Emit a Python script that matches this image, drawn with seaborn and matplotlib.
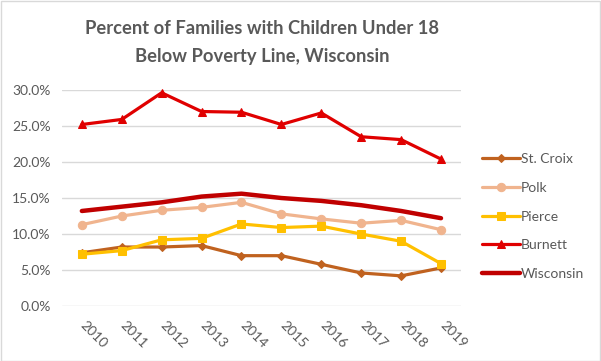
import matplotlib
matplotlib.use("Agg")
import matplotlib.pyplot as plt
import matplotlib.patches as mpatches
import matplotlib.transforms as mtrans
import pandas as pd
import seaborn as sns

# data (percent)
years = [2010, 2011, 2012, 2013, 2014, 2015, 2016, 2017, 2018, 2019]
st_croix = [7.4, 8.2, 8.2, 8.4, 7.0, 7.0, 5.8, 4.6, 4.2, 5.3]
polk = [11.3, 12.5, 13.3, 13.7, 14.4, 12.8, 12.1, 11.5, 11.9, 10.6]
pierce = [7.2, 7.7, 9.2, 9.4, 11.4, 10.9, 11.1, 10.0, 9.0, 5.9]
burnett = [25.2, 25.9, 29.6, 27.0, 26.9, 25.2, 26.8, 23.5, 23.1, 20.4]
wisconsin = [13.2, 13.8, 14.4, 15.2, 15.6, 15.0, 14.6, 14.0, 13.2, 12.2]

series_names = ["St. Croix", "Polk", "Pierce", "Burnett", "Wisconsin"]
series_vals = [st_croix, polk, pierce, burnett, wisconsin]
colors = ["#C0621F", "#F0B48E", "#FFC000", "#E00000", "#C00000"]
markers = ["D", "o", "s", "^", ""]
widths = [2.3, 2.3, 2.3, 2.3, 3.2]

rows = []
for name, vals in zip(series_names, series_vals):
    for y, v in zip(years, vals):
        rows.append({"year": y, "pct": v, "area": name})
df = pd.DataFrame(rows)

sns.set_style("white")
plt.rcParams["font.family"] = ["Lato", "DejaVu Sans"]

fig = plt.figure(figsize=(6.01, 3.61), dpi=100)
ax = fig.add_axes([0.103, 0.152, 0.664, 0.599])

for name, c, m, w in zip(series_names, colors, markers, widths):
    sub = df[df["area"] == name]
    sns.lineplot(data=sub, x="year", y="pct", ax=ax, color=c, lw=w,
                 marker=m if m else None, markersize=6 if m != "D" else 4.5,
                 markeredgecolor=c, label=name, clip_on=False)

ax.set_xlim(2009.5, 2019.5)
ax.set_ylim(0, 30)
ax.set_yticks([0, 5, 10, 15, 20, 25, 30])
ax.set_yticklabels(["{:.1f}%".format(v) for v in [0, 5, 10, 15, 20, 25, 30]])
ax.set_xticks(years)
ax.set_xticklabels([str(y) for y in years], rotation=-45, ha="left",
                   va="top", rotation_mode="anchor")
ax.tick_params(axis="both", length=0, labelsize=10, labelcolor="#595959")
ax.tick_params(axis="x", pad=9)
ax.tick_params(axis="y", pad=8)
# nudge the slanted year labels a little to the right
shift = mtrans.ScaledTranslation(5 / 100, 0, fig.dpi_scale_trans)
for lab in ax.get_xticklabels():
    lab.set_transform(lab.get_transform() + shift)
ax.grid(axis="y", color="#D9D9D9", lw=1)
ax.set_axisbelow(True)
for s in ax.spines.values():
    s.set_visible(False)
ax.set_xlabel("")
ax.set_ylabel("")

handles, labels = ax.get_legend_handles_labels()
ax.legend_.remove()
fig.legend(handles, labels, loc="center left", bbox_to_anchor=(0.802, 0.40),
           frameon=False, fontsize=10, labelcolor="#595959", handlelength=2.7,
           handletextpad=0.1, labelspacing=1.2, borderpad=0, borderaxespad=0)

fig.text(0.436, 0.882, "Percent of Families with Children Under 18\nBelow Poverty Line, Wisconsin",
         ha="center", va="center", fontsize=13.2, fontweight="bold",
         color="#595959", linespacing=1.78)

fig.patches.append(mpatches.Rectangle((0.001, 0.001), 0.997, 0.996,
                                      transform=fig.transFigure, fill=False,
                                      edgecolor="#D9D9D9", lw=1))

fig.savefig("out.png", dpi=100)
